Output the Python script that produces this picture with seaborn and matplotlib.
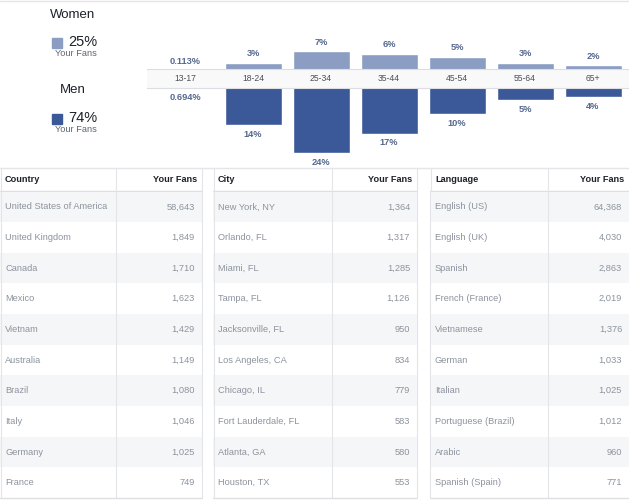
import matplotlib
matplotlib.use('Agg')
import matplotlib.pyplot as plt
import seaborn as sns
import pandas as pd

# --- data ---
ages = ["13-17", "18-24", "25-34", "35-44", "45-54", "55-64", "65+"]
women_pct = [0.113, 3, 7, 6, 5, 3, 2]
men_pct = [0.694, 14, 24, 17, 10, 5, 4]
women_total = "25%"
men_total = "74%"

countries = ["United States of America", "United Kingdom", "Canada", "Mexico", "Vietnam",
             "Australia", "Brazil", "Italy", "Germany", "France"]
country_fans = [58643, 1849, 1710, 1623, 1429, 1149, 1080, 1046, 1025, 749]
cities = ["New York, NY", "Orlando, FL", "Miami, FL", "Tampa, FL", "Jacksonville, FL",
          "Los Angeles, CA", "Chicago, IL", "Fort Lauderdale, FL", "Atlanta, GA", "Houston, TX"]
city_fans = [1364, 1317, 1285, 1126, 950, 834, 779, 583, 580, 553]
languages = ["English (US)", "English (UK)", "Spanish", "French (France)", "Vietnamese",
             "German", "Italian", "Portuguese (Brazil)", "Arabic", "Spanish (Spain)"]
language_fans = [64368, 4030, 2863, 2019, 1376, 1033, 1025, 1012, 960, 771]

WOMEN_C = "#8b9dc3"
MEN_C = "#3b5998"
LABEL_C = "#56698f"
GREY_TXT = "#8d949e"
DARK_TXT = "#1d2129"
LINE_C = "#e3e5e8"
STRIPE_C = "#f5f6f7"

W, H = 629, 500
sns.set_theme(style="white")
plt.rcParams['font.family'] = ['Liberation Sans', 'DejaVu Sans']

fig = plt.figure(figsize=(W / 100, H / 100), dpi=100)


def px_rect(x, y, w, h):
    return [x / W, 1 - (y + h) / H, w / W, h / H]


# background axes in pixel units
bg = fig.add_axes([0, 0, 1, 1], zorder=0)
bg.set_xlim(0, W)
bg.set_ylim(H, 0)
bg.axis("off")
bg.axhline(1, color=LINE_C, lw=1)
bg.axhline(167.5, color=LINE_C, lw=1)

# left legend
bg.text(73, 15, "Women", fontsize=9.5, color=DARK_TXT, ha="center", va="center")
bg.add_patch(plt.Rectangle((52, 38), 10, 10, color=WOMEN_C))
bg.text(68, 42, women_total, fontsize=10.5, color=DARK_TXT, va="center")
bg.text(55, 54, "Your Fans", fontsize=6.7, color="#606770", va="center")
bg.text(73, 90, "Men", fontsize=9.5, color=DARK_TXT, ha="center", va="center")
bg.add_patch(plt.Rectangle((52, 114), 10, 10, color=MEN_C))
bg.text(68, 118, men_total, fontsize=10.5, color=DARK_TXT, va="center")
bg.text(55, 130, "Your Fans", fontsize=6.7, color="#606770", va="center")

# age bars
df = pd.DataFrame({"age": ages, "women": women_pct, "men": men_pct})
PX_PER_PCT = 2.8
bar_w = 57 / 68


def fmt(v):
    return f"{v:g}%"


ax_w = fig.add_axes(px_rect(151, 41, 476, 30), zorder=1)
sns.barplot(data=df, x="age", y="women", color=WOMEN_C, saturation=1, width=bar_w, ax=ax_w)
ax_w.set_ylim(0, 30 / PX_PER_PCT)
ax_w.bar_label(ax_w.containers[0], labels=[fmt(v) for v in women_pct], padding=3.5,
               fontsize=6.7, fontweight="bold", color=LABEL_C)

ax_m = fig.add_axes(px_rect(151, 86, 476, 80), zorder=1)
sns.barplot(data=df, x="age", y="men", color=MEN_C, saturation=1, width=bar_w, ax=ax_m)
ax_m.set_ylim(80 / PX_PER_PCT, 0)
ax_m.bar_label(ax_m.containers[0], labels=[fmt(v) for v in men_pct], padding=3.5,
               fontsize=6.7, fontweight="bold", color=LABEL_C)

for ax in (ax_w, ax_m):
    ax.set_xlim(-0.5, len(ages) - 0.5)
    ax.axis("off")

# age band
band_left, band_right = 147, 629
ax_b = fig.add_axes(px_rect(band_left, 69, band_right - band_left, 19), zorder=2)
ax_b.set_xlim((band_left - 185) / 68, (band_right - 185) / 68)
ax_b.set_ylim(0, 1)
ax_b.set_facecolor("#f9f9fa")
ax_b.set_xticks([])
ax_b.set_yticks([])
for side, sp in ax_b.spines.items():
    sp.set_visible(side in ("top", "bottom"))
    sp.set_color("#dcdee3")
    sp.set_linewidth(0.8)
for i, a in enumerate(ages):
    ax_b.text(i, 0.5, a, ha="center", va="center", fontsize=6.2, color="#4b4f56")

# tables
tables = [
    ("Country", countries, country_fans, 0, 202, 116),
    ("City", cities, city_fans, 213, 417, 332),
    ("Language", languages, language_fans, 430, 629, 548),
]
HEAD_TOP, HEAD_BOT, ROWS_BOT = 168, 191, 498

for title, names, fans, x0, x1, xdiv in tables:
    # header
    bg.text(x0 + 5, (HEAD_TOP + HEAD_BOT) / 2 + 0.5, title, fontsize=6.6, fontweight="bold",
            color=DARK_TXT, va="center")
    bg.text(x1 - 5, (HEAD_TOP + HEAD_BOT) / 2 + 0.5, "Your Fans", fontsize=6.6, fontweight="bold",
            color=DARK_TXT, va="center", ha="right")
    bg.plot([x0, x1], [HEAD_BOT, HEAD_BOT], color="#dddfe2", lw=1)
    bg.plot([x0, x1], [ROWS_BOT, ROWS_BOT], color="#dddfe2", lw=1)
    bg.plot([xdiv, xdiv], [HEAD_TOP, HEAD_BOT], color=LINE_C, lw=0.8)
    for xx in (x0 + 0.5, x1 - 0.5):
        if 0 < xx < W - 1:
            bg.plot([xx, xx], [HEAD_TOP, HEAD_BOT], color=LINE_C, lw=0.8)

    # rows, one unit per row
    ax_t = fig.add_axes(px_rect(x0, HEAD_BOT + 0.5, x1 - x0, ROWS_BOT - HEAD_BOT - 0.5), zorder=1)
    ax_t.set_xlim(x0, x1)
    ax_t.set_ylim(len(names) - 0.5, -0.5)
    ax_t.axis("off")
    for i, (n, f) in enumerate(zip(names, fans)):
        if i % 2 == 0:
            ax_t.axhspan(i - 0.5, i + 0.5, color=STRIPE_C, lw=0)
        ax_t.text(x0 + 5, i, n, fontsize=6.7, color=GREY_TXT, va="center")
        ax_t.text(x1 - 7, i, f"{f:,}", fontsize=6.7, color=GREY_TXT, va="center", ha="right")
    ax_t.axvline(xdiv, color=LINE_C, lw=0.8)
    for xx in (x0 + 0.5, x1 - 0.5):
        if 0 < xx < W - 1:
            ax_t.axvline(xx, color=LINE_C, lw=0.8, clip_on=False)

fig.savefig("out.png", dpi=100)
plt.close(fig)
